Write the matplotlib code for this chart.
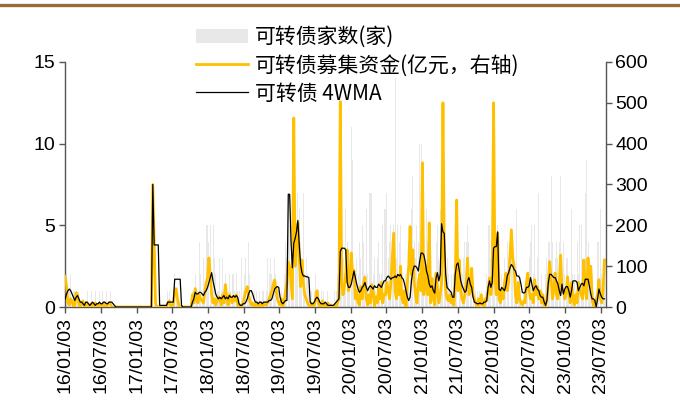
import matplotlib
matplotlib.use("Agg")
import matplotlib.pyplot as plt
import matplotlib.dates as mdates
from matplotlib.lines import Line2D
import pandas as pd
import numpy as np

plt.rcParams['font.family'] = ['Liberation Sans', 'Noto Sans CJK SC', 'DejaVu Sans']

# 周度数据: 2016-01-03 起, 每周一个点
START = "2016-01-03"

# 可转债家数(家), 左轴
counts_2016 = [2,1,1,1,2,0,1,1,1,0,1,0,0,1,0,0,1,0,0,1,0,0,1,0,0,1,
               0,1,0,0,1,0,1,1,0,0,0,0,0,0,0,0,0,0,0,0,0,0,0,0,0,0]
counts_2017 = [0,0,0,0,0,0,0,0,0,0,0,0,2,1,0,0,0,0,0,0,0,0,0,1,1,0,
               0,0,2,1,1,0,0,0,0,0,0,0,0,0,0,1,1,2,1,1,4,2,1,3,1,5]
counts_2018 = [5,4,5,2,5,3,2,1,1,3,1,3,1,2,1,1,2,1,2,2,1,2,1,1,0,3,
               1,2,3,1,4,2,1,0,1,0,1,0,1,0,1,1,0,1,3,2,3,2,1,3,2,0]
counts_2019 = [1,0,1,0,2,4,3,7,5,3,2,4,3,4,7,6,4,3,7,2,3,2,1,0,1,0,
               1,2,1,1,0,1,0,1,0,0,1,0,0,0,0,1,1,2,2,3,4,3,2,6,4,3]
counts_2020 = [3,11,9,2,1,3,2,4,3,5,4,2,6,2,7,7,7,2,3,1,3,4,2,2,5,6,
               6,7,3,4,5,3,5,14,3,5,4,5,2,1,1,2,2,4,5,6,8,4,3,5,4,10]
counts_2021 = [10,5,3,2,6,4,3,4,3,1,2,4,5,3,6,9,7,4,3,3,2,1,2,1,2,3,
               5,6,3,2,2,3,4,4,5,4,2,1,1,0,1,1,0,1,1,0,1,1,2,5,5,3]
counts_2022 = [3,5,4,3,5,2,1,2,1,3,2,4,3,2,4,3,2,1,6,1,2,1,0,1,0,2,
               2,3,4,5,2,5,3,3,7,1,2,1,0,2,3,4,4,8,4,2,3,4,3,4,8,4]
counts_2023 = [4,2,3,3,1,1,6,2,2,1,4,2,5,5,3,2,7,9,4,1,1,2,1,0,0,4,4,
               6,2,1,3]

# 可转债募集资金(亿元), 右轴
amount_2016 = [75,50,10,5,20,15,0,5,35,30,5,0,10,15,0,5,10,0,0,8,5,0,10,5,0,8,
               0,5,10,0,0,5,10,8,0,0,0,0,0,0,0,0,0,0,0,0,0,0,0,0,0,0]
amount_2017 = [0,0,0,0,0,0,0,0,0,0,0,0,300,150,10,0,0,0,0,0,0,0,0,10,15,5,
               0,5,40,45,20,5,0,0,0,0,0,0,0,0,0,30,10,45,20,10,30,20,15,10,35,60]
amount_2018 = [70,120,80,30,10,20,5,15,25,20,5,30,10,55,25,5,30,20,10,25,15,30,5,0,5,0,
               10,25,40,50,30,15,5,10,0,5,10,0,5,10,0,5,10,5,10,20,30,40,55,66,45,20]
amount_2019 = [10,5,20,0,15,40,60,110,100,60,20,463,100,150,206,120,50,115,60,30,20,10,5,0,10,0,
               5,20,40,10,0,5,15,0,5,0,10,0,5,0,0,5,0,10,20,503,60,30,50,80,140,40]
amount_2020 = [60,132,80,90,20,40,10,5,50,20,60,73,20,5,30,10,55,40,0,25,10,45,20,60,10,30,
               30,60,40,20,60,120,181,40,20,70,30,100,20,10,40,0,60,100,197,80,140,60,30,10,60,80]
amount_2021 = [40,353,30,60,100,30,206,10,70,20,5,83,40,10,30,60,500,133,40,20,15,30,10,20,5,60,
               262,40,115,40,20,10,30,60,120,30,40,95,30,20,10,0,20,5,30,10,0,20,15,40,71,30]
amount_2022 = [60,500,80,30,181,20,10,40,20,60,83,40,60,122,189,120,100,30,10,60,20,10,5,15,10,60,
               83,40,20,30,10,67,30,50,20,40,10,30,5,0,20,60,111,70,20,40,83,30,20,60,127,40]
amount_2023 = [40,20,30,74,40,10,60,20,5,30,10,60,40,30,20,115,40,20,120,60,100,20,0,10,20,30,67,
               20,10,40,115]

# 可转债 4WMA, 左轴
wma_2016 = [0.5,0.8,1.0,1.1,1.0,0.8,0.6,0.4,0.6,0.7,0.5,0.3,0.3,0.2,0.1,0.3,0.3,0.2,0.1,0.2,0.3,0.2,0.1,0.2,0.2,0.3,
            0.2,0.2,0.3,0.3,0.2,0.2,0.3,0.3,0.3,0.2,0.1,0,0,0,0,0,0,0,0,0,0,0,0,0,0,0]
wma_2017 = [0,0,0,0,0,0,0,0,0,0,0,0,7.5,3.8,3.8,3.8,3.8,0.1,0.1,0.1,0.1,0.1,0.1,0.3,0.3,0.3,
            0.3,0.3,1.7,1.7,1.7,1.7,1.7,0.1,0,0,0,0,0,0,0,0.3,0.5,0.9,0.8,0.8,0.9,0.9,0.8,0.7,0.9,1.0]
wma_2018 = [1.2,1.5,1.8,2.1,1.6,1.2,0.8,0.6,0.5,0.6,0.5,0.6,0.7,0.5,0.6,0.5,0.7,0.6,0.6,0.7,0.6,0.7,0.6,0.2,0.1,0.1,
            0.2,0.2,0.3,0.5,0.8,1.0,1.0,0.8,0.5,0.3,0.3,0.2,0.3,0.3,0.2,0.3,0.3,0.3,0.3,0.4,0.4,0.5,0.8,1.1,1.2,1.25]
wma_2019 = [1.2,0.6,0.3,0.2,0.3,0.4,0.4,6.9,6.9,4.0,2.4,3.9,4.2,4.6,5.3,3.8,2.6,2.1,1.9,1.9,1.85,1.85,1.8,0.3,0.2,0.2,
            0.3,0.5,0.6,0.5,0.3,0.2,0.2,0.2,0.3,0.2,0.1,0.1,0.1,0.1,0.1,0.2,0.3,0.4,0.5,3.4,3.6,3.6,3.6,3.5,1.5,1.2]
wma_2020 = [1.2,1.4,1.8,2.2,1.8,1.4,1.1,0.9,1.0,1.2,1.3,1.5,1.2,1.0,1.2,1.3,1.2,1.1,1.3,1.2,1.2,1.4,1.3,1.2,1.4,1.6,
            1.6,1.8,1.9,1.8,1.7,1.8,1.8,1.9,1.8,2.0,1.9,2.0,1.8,1.7,1.4,1.0,0.6,0.4,0.6,1.6,2.2,2.5,2.5,2.4,2.2,2.8]
wma_2021 = [3.3,3.3,3.2,2.8,2.2,1.9,1.4,1.2,1.3,1.0,0.85,1.8,2.1,1.6,2.0,5.1,4.6,4.5,2.0,1.2,1.1,1.0,0.9,0.6,0.6,2.0,
            2.6,2.7,2.2,1.6,1.3,1.1,0.9,1.0,1.6,1.8,1.4,1.2,0.6,0.3,0.25,0.2,0.2,0.25,0.2,0.2,0.3,0.3,0.4,1.2,1.6,1.2]
wma_2022 = [1.5,3.6,3.7,3.7,4.6,1.1,1.0,1.2,1.1,1.0,1.3,1.9,2.1,2.4,2.6,2.5,2.3,2.2,1.9,1.9,1.8,1.4,0.9,0.85,0.9,1.2,
            1.2,1.3,1.8,1.4,1.0,1.2,1.3,1.1,1.0,0.7,0.6,0.6,0.3,0.1,0.4,1.5,2.0,2.0,1.9,1.8,1.8,1.6,1.4,1.0,0.7,1.4]
wma_2023 = [0.8,1.1,1.25,1.25,1.0,0.6,1.0,1.6,1.6,1.6,1.5,1.0,1.2,1.4,1.45,1.3,1.7,1.7,1.7,1.3,0.8,0.5,0.5,0.4,0.0,0.5,1.1,
            0.8,0.6,0.5,0.5]

counts = counts_2016 + counts_2017 + counts_2018 + counts_2019 + counts_2020 + counts_2021 + counts_2022 + counts_2023
amount = amount_2016 + amount_2017 + amount_2018 + amount_2019 + amount_2020 + amount_2021 + amount_2022 + amount_2023
wma = wma_2016 + wma_2017 + wma_2018 + wma_2019 + wma_2020 + wma_2021 + wma_2022 + wma_2023

dates = pd.date_range(START, periods=len(counts), freq="7D")

labels = ["可转债家数(家)", "可转债募集资金(亿元，右轴)", "可转债 4WMA"]
# 半年一个刻度: 每年 01/03 和 07/03
tick_dates = pd.date_range("2016-01-01", "2023-07-01", freq="6MS") + pd.Timedelta(days=2)

fig = plt.figure(figsize=(6.8, 4.16), dpi=100)
ax = fig.add_axes([0.0956, 0.262, 0.795, 0.589])
ax2 = ax.twinx()
ax3 = ax.twinx()

bars = ax.bar(dates, counts, width=5, color="#E8E8E8", zorder=1)
line_amt, = ax2.plot(dates, amount, color="#FFC000", lw=2.0, zorder=2)
line_wma, = ax3.plot(dates, wma, color="black", lw=0.9, zorder=3)

ax.set_xlim(dates[0] - pd.Timedelta(days=1), pd.Timestamp("2023-07-29"))
ax.set_ylim(0, 15)
ax.set_yticks([0, 5, 10, 15])
ax2.set_ylim(0, 600)
ax2.set_yticks([0, 100, 200, 300, 400, 500, 600])
ax3.set_ylim(0, 15)
ax3.axis("off")

ax.set_xticks(tick_dates)
ax.xaxis.set_major_formatter(mdates.DateFormatter("%y/%m/%d"))
plt.setp(ax.get_xticklabels(), rotation=90)

for s in ["top", "right"]:
    ax.spines[s].set_visible(False)
for s in ["top", "left", "bottom"]:
    ax2.spines[s].set_visible(False)
for a in (ax, ax2):
    for s in a.spines.values():
        s.set_color("#555555")
        s.set_linewidth(1.0)
    a.tick_params(direction="out", length=4, width=1.0, color="#555555", labelsize=14, pad=3)

fig.legend([bars, line_amt, line_wma], labels, loc="upper left",
           bbox_to_anchor=(0.288, 0.937), frameon=False,
           prop={"family": ["Noto Sans CJK SC", "DejaVu Sans"], "size": 15},
           handlelength=2.5, handletextpad=0.35, labelspacing=0.3,
           borderpad=0, borderaxespad=0)

# 顶部棕色分隔线
fig.add_artist(Line2D([0, 1], [0.988, 0.988], transform=fig.transFigure,
                      color="#9C6A3A", lw=2.4))

fig.savefig("out.png", dpi=100)
